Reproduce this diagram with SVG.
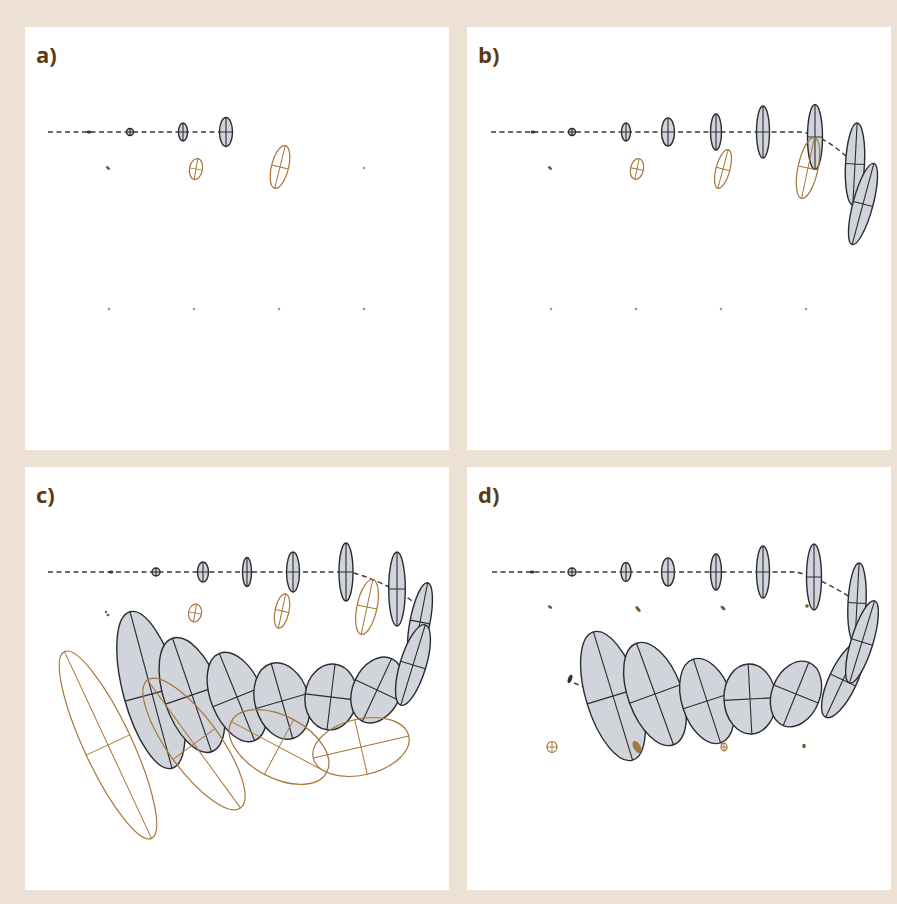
<svg xmlns="http://www.w3.org/2000/svg" width="897" height="904" viewBox="0 0 897 904">
<style>
.panel{fill:#ffffff}
.lbl{font-family:"Open Sans","Liberation Sans",sans-serif;font-weight:700;font-size:22px;fill:#5e3a12}
.g ellipse{fill:#d1d4da;stroke:#2a2c30;stroke-width:1.4}
.g path{fill:none;stroke:#2a2c30;stroke-width:1.1}
.o ellipse{fill:none;stroke:#a8763a;stroke-width:1.2}
.o path{fill:none;stroke:#a8763a;stroke-width:1}
.dot{fill:#333}
.odot{fill:#7a5a2e}
.fdot{fill:#9a9a9a}
.dash{fill:none;stroke:#3a3a3a;stroke-width:1.4;stroke-dasharray:5 3.5}
</style>
<rect x="0" y="0" width="897" height="904" fill="#ece1d4"/>
<rect class="panel" x="25" y="27" width="424" height="423"/>
<rect class="panel" x="467" y="27" width="424" height="423"/>
<rect class="panel" x="25" y="467" width="424" height="423"/>
<rect class="panel" x="467" y="467" width="424" height="423"/>
<text class="lbl" x="36" y="63">a)</text>
<text class="lbl" x="478" y="63">b)</text>
<text class="lbl" x="36" y="503">c)</text>
<text class="lbl" x="478" y="503">d)</text>

<g id="connectors">
<path class="dash" d="M48,132 H226"/>
<path class="dash" d="M491,132 H800 C815,133 835,145 850,160"/>
<path class="dash" d="M48,572 H350 C370,577 395,588 418,605"/>
<path class="dash" d="M492,572 H795 C807,574 822,580 850,597"/>
<path class="dash" d="M574,683 L586,688"/>
</g>

<!-- Panel a -->
<g id="a-n1"><ellipse class="dot" cx="89" cy="132" rx="2.5" ry="1.5"/></g>
<g id="a-n2" class="g" transform="translate(130,132)"><ellipse rx="3.5" ry="3.5"/><path d="M0,-3.5V3.5M-3.5,0H3.5"/></g>
<g id="a-n3" class="g" transform="translate(183,132)"><ellipse rx="4.5" ry="9"/><path d="M0,-9V9M-4.5,0H4.5"/></g>
<g id="a-n4" class="g" transform="translate(226,132)"><ellipse rx="6.5" ry="14.5"/><path d="M0,-14.5V14.5M-6.5,0H6.5"/></g>
<g id="a-o1"><ellipse class="odot" cx="108" cy="168" rx="2.5" ry="1.3" transform="rotate(40 108 168)"/></g>
<g id="a-o2" class="o" transform="translate(196,169) rotate(10)"><ellipse rx="6.5" ry="10.5"/><path d="M0,-10.5V10.5M-6.5,0H6.5"/></g>
<g id="a-o3" class="o" transform="translate(280,167) rotate(14)"><ellipse rx="8.5" ry="22"/><path d="M0,-22V22M-8.5,0H8.5"/></g>
<g id="a-o4"><circle class="fdot" cx="364" cy="168" r="1.3"/></g>
<g id="a-f"><circle class="fdot" cx="109" cy="309" r="1.3"/><circle class="fdot" cx="194" cy="309" r="1.3"/><circle class="fdot" cx="279" cy="309" r="1.3"/><circle class="fdot" cx="364" cy="309" r="1.3"/></g>

<!-- Panel b -->
<g id="b-n1"><ellipse class="dot" cx="533" cy="132" rx="2.5" ry="1.5"/></g>
<g id="b-n2" class="g" transform="translate(572,132)"><ellipse rx="3.5" ry="3.5"/><path d="M0,-3.5V3.5M-3.5,0H3.5"/></g>
<g id="b-n3" class="g" transform="translate(626,132)"><ellipse rx="4.5" ry="9"/><path d="M0,-9V9M-4.5,0H4.5"/></g>
<g id="b-n4" class="g" transform="translate(668,132)"><ellipse rx="6.5" ry="14"/><path d="M0,-14V14M-6.5,0H6.5"/></g>
<g id="b-n5" class="g" transform="translate(716,132)"><ellipse rx="5.5" ry="18"/><path d="M0,-18V18M-5.5,0H5.5"/></g>
<g id="b-n6" class="g" transform="translate(763,132)"><ellipse rx="6.5" ry="26"/><path d="M0,-26V26M-6.5,0H6.5"/></g>
<g id="b-n7" class="g" transform="translate(815,137)"><ellipse rx="7.5" ry="32.5"/><path d="M0,-32.5V32.5M-7.5,0H7.5"/></g>
<g id="b-n8" class="g" transform="translate(855,164) rotate(3)"><ellipse rx="9.5" ry="41"/><path d="M0,-41V41M-9.5,0H9.5"/></g>
<g id="b-n9" class="g" transform="translate(863,204) rotate(15)"><ellipse rx="10" ry="42"/><path d="M0,-42V42M-10,0H10"/></g>
<g id="b-o1"><ellipse class="odot" cx="550" cy="168" rx="2.5" ry="1.3" transform="rotate(40 550 168)"/></g>
<g id="b-o2" class="o" transform="translate(637,169) rotate(12)"><ellipse rx="6.5" ry="10.5"/><path d="M0,-10.5V10.5M-6.5,0H6.5"/></g>
<g id="b-o3" class="o" transform="translate(723,169) rotate(15)"><ellipse rx="7" ry="20"/><path d="M0,-20V20M-7,0H7"/></g>
<g id="b-o4" class="o" transform="translate(808,168) rotate(12)"><ellipse rx="10" ry="31"/><path d="M0,-31V31M-10,0H10"/></g>
<g id="b-f"><circle class="fdot" cx="551" cy="309" r="1.3"/><circle class="fdot" cx="636" cy="309" r="1.3"/><circle class="fdot" cx="721" cy="309" r="1.3"/><circle class="fdot" cx="806" cy="309" r="1.3"/></g>

<!-- Panel c -->
<g id="c-n1"><ellipse class="dot" cx="111" cy="572" rx="2.5" ry="1.5"/></g>
<g id="c-n2" class="g" transform="translate(156,572)"><ellipse rx="4" ry="4"/><path d="M0,-4V4M-4,0H4"/></g>
<g id="c-n3" class="g" transform="translate(203,572)"><ellipse rx="5.5" ry="10"/><path d="M0,-10V10M-5.5,0H5.5"/></g>
<g id="c-n4" class="g" transform="translate(247,572)"><ellipse rx="4.5" ry="14.5"/><path d="M0,-14.5V14.5M-4.5,0H4.5"/></g>
<g id="c-n5" class="g" transform="translate(293,572)"><ellipse rx="6.5" ry="20"/><path d="M0,-20V20M-6.5,0H6.5"/></g>
<g id="c-n6" class="g" transform="translate(346,572)"><ellipse rx="7" ry="29"/><path d="M0,-29V29M-7,0H7"/></g>
<g id="c-n7" class="g" transform="translate(397,589)"><ellipse rx="8.3" ry="37"/><path d="M0,-37V37M-8.3,0H8.3"/></g>
<g id="c-g1" class="g" transform="translate(151,690) rotate(-15)"><ellipse rx="28" ry="81"/><path d="M0,-81V81M-28,4H28"/></g>
<g id="c-g2" class="g" transform="translate(192,695) rotate(-19)"><ellipse rx="28" ry="60"/><path d="M0,-60V60M-28,0H28"/></g>
<g id="c-g3" class="g" transform="translate(237,697) rotate(-22)"><ellipse rx="26" ry="47"/><path d="M0,-47V47M-26,0H26"/></g>
<g id="c-g4" class="g" transform="translate(282,701) rotate(-16)"><ellipse rx="27" ry="39"/><path d="M0,-39V39M-27,0H27"/></g>
<g id="c-g5" class="g" transform="translate(331,697) rotate(7)"><ellipse rx="26" ry="33"/><path d="M0,-33V33M-26,0H26"/></g>
<g id="c-g6" class="g" transform="translate(377,690) rotate(25)"><ellipse rx="24" ry="34.5"/><path d="M0,-34.5V34.5M-24,0H24"/></g>
<g id="c-n8" class="g" transform="translate(420,622) rotate(11)"><ellipse rx="10" ry="40"/><path d="M0,-40V40M-10,0H10"/></g>
<g id="c-g7" class="g" transform="translate(413,665) rotate(17)"><ellipse rx="13" ry="42"/><path d="M0,-42V42M-13,0H13"/></g>
<g id="c-o1"><ellipse class="odot" cx="106" cy="612" rx="1.2" ry="1.2"/><ellipse class="odot" cx="108" cy="615" rx="1.5" ry="1.2"/></g>
<g id="c-o2" class="o" transform="translate(195,613) rotate(10)"><ellipse rx="6.5" ry="9"/><path d="M0,-9V9M-6.5,0H6.5"/></g>
<g id="c-o3" class="o" transform="translate(282,611) rotate(12)"><ellipse rx="7" ry="17.5"/><path d="M0,-17.5V17.5M-7,0H7"/></g>
<g id="c-o4" class="o" transform="translate(367,607) rotate(12)"><ellipse rx="10" ry="28"/><path d="M0,-28V28M-10,0H10"/></g>
<g id="c-o5" class="o" transform="translate(108,745) rotate(-25)"><ellipse rx="24" ry="103"/><path d="M0,-103V103M-24,0H24"/></g>
<g id="c-o6" class="o" transform="translate(194,744) rotate(-36)"><ellipse rx="26" ry="79"/><path d="M0,-79V79M-26,0H26"/></g>
<g id="c-o7" class="o" transform="translate(279,747) rotate(28)"><ellipse rx="54" ry="31"/><path d="M-54,0H54M0,-31V31"/></g>
<g id="c-o8" class="o" transform="translate(361,747) rotate(-13)"><ellipse rx="49" ry="28"/><path d="M-49,0H49M0,-28V28"/></g>

<!-- Panel d -->
<g id="d-n1"><ellipse class="dot" cx="532" cy="572" rx="2.5" ry="1.5"/></g>
<g id="d-n2" class="g" transform="translate(572,572)"><ellipse rx="4" ry="4"/><path d="M0,-4V4M-4,0H4"/></g>
<g id="d-n3" class="g" transform="translate(626,572)"><ellipse rx="5" ry="9.5"/><path d="M0,-9.5V9.5M-5,0H5"/></g>
<g id="d-n4" class="g" transform="translate(668,572)"><ellipse rx="6.5" ry="14"/><path d="M0,-14V14M-6.5,0H6.5"/></g>
<g id="d-n5" class="g" transform="translate(716,572)"><ellipse rx="5.5" ry="18"/><path d="M0,-18V18M-5.5,0H5.5"/></g>
<g id="d-n6" class="g" transform="translate(763,572)"><ellipse rx="6.5" ry="26"/><path d="M0,-26V26M-6.5,0H6.5"/></g>
<g id="d-n7" class="g" transform="translate(814,577)"><ellipse rx="7.5" ry="33"/><path d="M0,-33V33M-7.5,0H7.5"/></g>
<g id="d-g1" class="g" transform="translate(613,696) rotate(-17)"><ellipse rx="27" ry="67"/><path d="M0,-67V67M-27,0H27"/></g>
<g id="d-g2" class="g" transform="translate(655,694) rotate(-20)"><ellipse rx="27" ry="54"/><path d="M0,-54V54M-27,0H27"/></g>
<g id="d-g3" class="g" transform="translate(707,701) rotate(-18)"><ellipse rx="25" ry="44"/><path d="M0,-44V44M-25,0H25"/></g>
<g id="d-g4" class="g" transform="translate(750,699) rotate(-3)"><ellipse rx="26" ry="35"/><path d="M0,-35V35M-26,0H26"/></g>
<g id="d-g5" class="g" transform="translate(796,694) rotate(22)"><ellipse rx="24" ry="34"/><path d="M0,-34V34M-24,0H24"/></g>
<g id="d-n8" class="g" transform="translate(857,603) rotate(3)"><ellipse rx="9" ry="40"/><path d="M0,-40V40M-9,0H9"/></g>
<g id="d-g6" class="g" transform="translate(843,680) rotate(25)"><ellipse rx="14" ry="41"/><path d="M0,-41V41M-14,0H14"/></g>
<g id="d-n9" class="g" transform="translate(862,642) rotate(17)"><ellipse rx="11" ry="43"/><path d="M0,-43V43M-11,0H11"/></g>
<g id="d-s"><ellipse class="dot" cx="570" cy="679" rx="2" ry="4.5" transform="rotate(20 570 679)"/></g>
<g id="d-o1"><ellipse class="odot" cx="550" cy="607" rx="2.5" ry="1.3" transform="rotate(30 550 607)"/></g>
<g id="d-o2"><ellipse class="odot" cx="638" cy="609" rx="3.5" ry="1.6" transform="rotate(50 638 609)"/></g>
<g id="d-o3"><ellipse class="odot" cx="723" cy="608" rx="3" ry="1.5" transform="rotate(40 723 608)"/></g>
<g id="d-o4"><ellipse class="odot" cx="807" cy="606" rx="1.8" ry="1.8"/></g>
<g id="d-o5" class="o" transform="translate(552,747)"><ellipse rx="5" ry="5.5"/><path d="M0,-5.5V5.5M-5,0H5"/></g>
<g id="d-o6" class="o" transform="translate(637,747) rotate(-30)"><ellipse rx="3" ry="6" style="fill:#9a7a4a"/><path d="M0,-6V6M-3,0H3"/></g>
<g id="d-o7" class="o" transform="translate(724,747)"><ellipse rx="3" ry="3.8"/><path d="M0,-3.8V3.8M-3,0H3"/></g>
<g id="d-o8"><ellipse class="odot" cx="804" cy="746" rx="1.8" ry="2.2"/></g>
</svg>
